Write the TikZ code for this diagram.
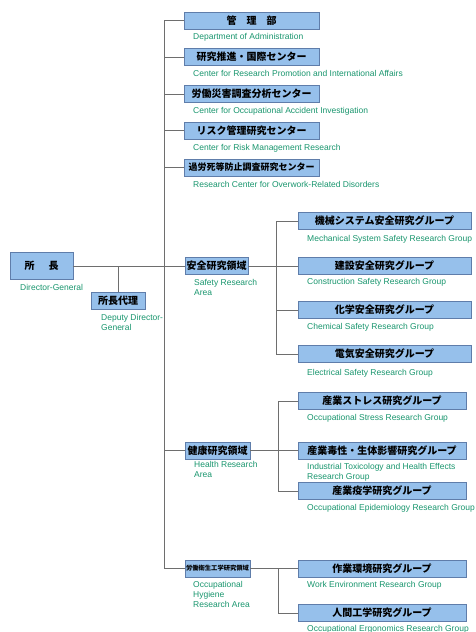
\documentclass[tikz,border=0pt]{standalone}
\usepackage{fontspec}
\setmainfont{Liberation Sans}
\newfontfamily\cjk{Noto Sans CJK JP}
\definecolor{boxfill}{RGB}{150,192,235}
\definecolor{boxline}{RGB}{95,125,170}
\definecolor{labc}{RGB}{25,150,110}
\definecolor{linec}{RGB}{110,110,110}
\begin{document}
\begin{tikzpicture}[x=1pt,y=-1pt,
  box/.style={draw=boxline, fill=boxfill, line width=0.8pt, minimum height=17pt, inner sep=0pt,
    font=\cjk\bfseries\fontsize{10}{10}\selectfont},
  lab/.style={anchor=base west, inner sep=0pt, text=labc, align=left,
    font=\fontsize{8.5}{10}\selectfont},
  conn/.style={draw=linec, line width=0.6pt}]
\useasboundingbox[fill=white] (0,0) rectangle (475,632);
% top boxes
\node[box, minimum width=135pt] (adm) at (251.5,20.5) {管\hspace{10pt}理\hspace{10pt}部};
\node[box, minimum width=135pt] (rp)  at (251.5,57) {研究推進・国際センター};
\node[box, minimum width=135pt] (oai) at (251.5,94) {労働災害調査分析センター};
\node[box, minimum width=135pt] (rm)  at (251.5,130.5) {リスク管理研究センター};
\node[box, minimum width=135pt, font=\cjk\bfseries\fontsize{9}{9}\selectfont] (ow) at (251.5,167.5) {過労死等防止調査研究センター};
\node[lab] (admL) at (193,39) {Department of Administration};
\node[lab] (rpL)  at (193,76) {Center for Research Promotion and International Affairs};
\node[lab] (oaiL) at (193,113) {Center for Occupational Accident Investigation};
\node[lab] (rmL)  at (193,150) {Center for Risk Management Research};
\node[lab] (owL)  at (193,187) {Research Center for Overwork-Related Disorders};
% director
\node[box, minimum width=63pt, minimum height=27pt] (dg) at (41.5,266) {所\hspace{14pt}長};
\node[lab] (dgL) at (20,290) {Director-General};
\node[box, minimum width=54pt] (dep) at (118,300.5) {所長代理};
\node[lab] (depL) at (101,330) {Deputy Director-\\General};
% areas
\node[box, minimum width=63pt] (safe) at (216.5,266) {安全研究領域};
\node[lab] (safeL) at (194,295) {Safety Research\\Area};
\node[box, minimum width=65pt] (health) at (217.5,450.5) {健康研究領域};
\node[lab] (healthL) at (194,477) {Health Research\\Area};
\node[box, minimum width=65pt, font=\cjk\bfseries\fontsize{6.3}{6.3}\selectfont] (hyg) at (217.5,568.5) {労働衛生工学研究領域};
\node[lab] (hygL) at (193,607) {Occupational\\Hygiene\\Research Area};
% safety groups
\node[box, minimum width=173pt] (s1) at (384.5,221) {機械システム安全研究グループ};
\node[box, minimum width=173pt] (s2) at (384.5,266) {建設安全研究グループ};
\node[box, minimum width=173pt] (s3) at (384.5,310) {化学安全研究グループ};
\node[box, minimum width=173pt] (s4) at (384.5,354) {電気安全研究グループ};
\node[lab] (s1L) at (307,241) {Mechanical System Safety Research Group};
\node[lab] (s2L) at (307,284) {Construction Safety Research Group};
\node[lab] (s3L) at (307,329) {Chemical Safety Research Group};
\node[lab] (s4L) at (307,375) {Electrical Safety Research Group};
% health groups
\node[box, minimum width=168pt] (h1) at (382,401) {産業ストレス研究グループ};
\node[box, minimum width=168pt] (h2) at (382,450.5) {産業毒性・生体影響研究グループ};
\node[box, minimum width=168pt] (h3) at (382,491) {産業疫学研究グループ};
\node[lab] (h1L) at (307,420) {Occupational Stress Research Group};
\node[lab] (h2L) at (307,479) {Industrial Toxicology and Health Effects\\Research Group};
\node[lab] (h3L) at (307,510) {Occupational Epidemiology Research Group};
% hygiene groups
\node[box, minimum width=168pt] (y1) at (382,568.5) {作業環境研究グループ};
\node[box, minimum width=168pt] (y2) at (382,613) {人間工学研究グループ};
\node[lab] (y1L) at (307,587) {Work Environment Research Group};
\node[lab] (y2L) at (307,631) {Occupational Ergonomics Research Group};
% connectors
\coordinate (tr) at (164,0);
\coordinate (st) at (276,0);
\coordinate (ht) at (278,0);
\draw[conn] (adm.west) -- (adm.west -| tr) -- (hyg.west -| tr) -- (hyg.west);
\foreach \n in {rp,oai,rm,ow,health} \draw[conn] (\n.west) -- (\n.west -| tr);
\draw[conn] (dg.east) -- (safe.west);
\draw[conn] (dep.north) -- (dep.north |- dg.east);
\draw[conn] (s1.west) -- (s1.west -| st) -- (s4.west -| st) -- (s4.west);
\draw[conn] (safe.east) -- (s2.west);
\draw[conn] (s3.west) -- (s3.west -| st);
\draw[conn] (h1.west) -- (h1.west -| ht) -- (h3.west -| ht) -- (h3.west);
\draw[conn] (health.east) -- (h2.west);
\draw[conn] (hyg.east) -- (y1.west);
\draw[conn] (y1.west -| ht) -- (y2.west -| ht) -- (y2.west);
\end{tikzpicture}
\end{document}
